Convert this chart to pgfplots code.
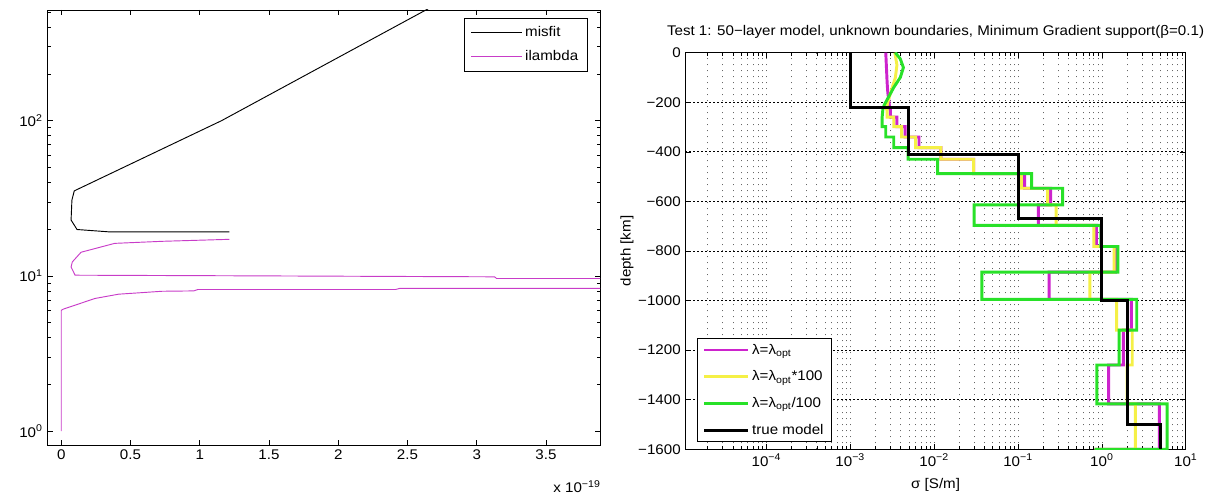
\documentclass[border=0pt]{standalone}
\usepackage{pgfplots}
\pgfplotsset{compat=1.18}
\usepackage{pgfplotstable}
\usepackage{fontspec}
\setmainfont[FakeStretch=1.08]{Liberation Sans}

\definecolor{lammag}{RGB}{200,60,200}
\definecolor{optmag}{RGB}{205,35,205}
\definecolor{hiyel}{RGB}{245,240,70}
\definecolor{logrn}{RGB}{40,225,40}

\newcommand{\tickfont}{\fontsize{10.5}{12}\selectfont}

% ---------- L-curve data (x in units of 1e-19) ----------
\pgfplotstableread{
x      y
1.214  19.2
0.351  19.2
0.114  19.9
0.071  22.9
0.077  30.8
0.094  35.3
1.157  100
2.768  601
}\misfit

\pgfplotstableread{
x      y
0      1.0
0      6.0
0.014  6.1
0.243  7.15
0.414  7.62
0.729  7.96
0.957  8.0
0.986  8.17
2.414  8.17
2.443  8.3
4.2    8.3
4.2    9.62
3.143  9.62
3.129  9.86
1.414  10.0
0.1    10.1
0.071  11.4
0.08   12.3
0.143  14.2
0.386  16.2
0.729  16.7
1.214  17.2
}\ilambda

% ---------- conductivity profiles (sigma [S/m], depth [km]) ----------
\pgfplotstableread{
s        d
2.65e-3  0
2.7e-3   -60
2.75e-3  -120
2.8e-3   -160
2.9e-3   -200
2.95e-3  -226
3.0e-3   -226
3.0e-3   -260
3.6e-3   -260
3.6e-3   -298
4.5e-3   -298
4.5e-3   -340
6.6e-3   -340
6.6e-3   -383
0.012    -383
0.012    -430
0.0295   -430
0.0295   -488
0.12     -488
0.12     -547
0.245    -547
0.245    -614
0.175    -614
0.175    -697
0.86     -697
0.86     -782
1.45     -782
1.45     -885
0.235    -885
0.235    -995
2.25     -995
2.25     -1119
1.8      -1119
1.8      -1260
1.2      -1260
1.2      -1417
4.85     -1417
4.85     -1600
0.85     -1600
0.85     -1700
}\lamopt

\pgfplotstableread{
s        d
3.4e-3   0
3.6e-3   -50
3.45e-3  -100
3.1e-3   -150
2.8e-3   -200
2.7e-3   -226
2.75e-3  -226
2.75e-3  -260
3.3e-3   -260
3.3e-3   -298
4.1e-3   -298
4.1e-3   -340
6.0e-3   -340
6.0e-3   -383
0.012    -383
0.012    -430
0.0295   -430
0.0295   -488
0.11     -488
0.11     -547
0.225    -547
0.225    -614
0.285    -614
0.285    -697
0.80     -697
0.80     -782
1.4      -782
1.4      -885
0.72     -885
0.72     -995
1.5      -995
1.5      -1119
2.3      -1119
2.3      -1260
2.0      -1260
2.0      -1417
2.5      -1417
2.5      -1600
0.85     -1600
0.85     -1700
}\lamhigh

\pgfplotstableread{
s        d
3.45e-3  0
3.95e-3  -25
4.3e-3   -60
3.95e-3  -100
3.3e-3   -140
2.85e-3  -180
2.55e-3  -210
2.45e-3  -226
2.4e-3   -260
2.4e-3   -298
2.65e-3  -298
2.65e-3  -340
3.3e-3   -340
3.3e-3   -383
4.9e-3   -383
4.9e-3   -430
0.011    -430
0.011    -488
0.145    -488
0.145    -547
0.34     -547
0.34     -614
0.030    -614
0.030    -697
0.97     -697
0.97     -782
1.55     -782
1.55     -885
0.037    -885
0.037    -995
2.6      -995
2.6      -1119
1.6      -1119
1.6      -1260
0.87     -1260
0.87     -1417
6.0      -1417
6.0      -1600
0.85     -1600
0.85     -1700
}\lamlow

\pgfplotstableread{
s      d
1e-3   0
1e-3   -220
5e-3   -220
5e-3   -410
0.1    -410
0.1    -670
1      -670
1      -1000
2      -1000
2      -1500
5      -1500
5      -1600
}\truemodel

\begin{document}
\begin{tikzpicture}
\useasboundingbox (0pt,0pt) rectangle (915pt,373.5pt);

% ================= left: misfit / ilambda =================
\begin{axis}[
  at={(35.55pt,39.75pt)}, anchor=south west,
  width=414.45pt, height=326.25pt, scale only axis,
  xmin=-0.1, xmax=3.89,
  ymode=log, ymin=0.813, ymax=517,
  xtick={0,0.5,1,1.5,2,2.5,3,3.5},
  xticklabels={0,0.5,1,1.5,2,2.5,3,3.5},
  ytick={1,10,100},
  yticklabels={10\textsuperscript{0},10\textsuperscript{1},10\textsuperscript{2}},
  minor ytick={2,3,4,5,6,7,8,9,20,30,40,50,60,70,80,90,200,300,400,500},
  tick align=inside, major tick length=4pt, minor tick length=2.5pt,
  tick style={black, line width=0.5pt},
  axis line style={line width=0.6pt},
  tick label style={font=\tickfont},
  legend cell align=left,
  legend image code/.code={\draw[#1, line width=0.8pt] (0pt,0pt) -- (38pt,0pt);},
  legend style={at={(rel axis cs:0.978,0.981)}, anchor=north east,
    font=\tickfont, draw=black, line width=0.5pt,
    inner xsep=5pt, inner ysep=4pt, row sep=5pt},
]
\addplot[black, line width=0.7pt] table[x=x, y=y] {\misfit};
\addlegendentry{misfit}
\addplot[lammag, line width=0.7pt] table[x=x, y=y] {\ilambda};
\addlegendentry{ilambda}
\end{axis}
\node[font=\tickfont] at (432.75pt,8.25pt) {x 10\textsuperscript{−19}};

% ================= right: conductivity vs depth =================
\begin{axis}[
  at={(514.05pt,36.525pt)}, anchor=south west,
  width=375.3pt, height=297.45pt, scale only axis,
  xmode=log, xmin=1.083e-5, xmax=10,
  ymin=-1600, ymax=0,
  xtick={1e-4,1e-3,1e-2,1e-1,1,10},
  xticklabels={10\textsuperscript{−4},10\textsuperscript{−3},10\textsuperscript{−2},10\textsuperscript{−1},10\textsuperscript{0},10\textsuperscript{1}},
  minor xtick={2e-5,3e-5,4e-5,5e-5,6e-5,7e-5,8e-5,9e-5,
               2e-4,3e-4,4e-4,5e-4,6e-4,7e-4,8e-4,9e-4,
               2e-3,3e-3,4e-3,5e-3,6e-3,7e-3,8e-3,9e-3,
               2e-2,3e-2,4e-2,5e-2,6e-2,7e-2,8e-2,9e-2,
               0.2,0.3,0.4,0.5,0.6,0.7,0.8,0.9,
               2,3,4,5,6,7,8,9},
  ytick={-1600,-1400,-1200,-1000,-800,-600,-400,-200,0},
  yticklabels={−1600,−1400,−1200,−1000,−800,−600,−400,−200,0},
  xmajorgrids, xminorgrids, ymajorgrids,
  major x grid style={black!60, line width=0.6pt, dash pattern=on 0.6pt off 3.9pt},
  minor x grid style={black!60, line width=0.6pt, dash pattern=on 0.6pt off 3.9pt},
  major y grid style={black, line width=0.55pt, dash pattern=on 1.2pt off 1.8pt},
  tick align=inside, major tick length=4pt, minor tick length=2.2pt,
  tick style={black, line width=0.5pt},
  axis line style={line width=0.6pt},
  tick label style={font=\tickfont},
  title={Test 1: 50−layer model, unknown boundaries, Minimum Gradient support(β=0.1)},
  title style={font=\tickfont, at={(axis description cs:0.5,1.033)}, anchor=center},
  xlabel={σ [S/m]},
  xlabel style={font=\tickfont, at={(axis description cs:0.5,-0.09)}, anchor=center},
  ylabel={depth [km]},
  ylabel style={font=\tickfont, at={(axis description cs:-0.1167,0.5)}, anchor=center},
  legend cell align=left,
  legend image code/.code={\draw[#1, line width=2.2pt] (0pt,0pt) -- (33pt,0pt);},
  legend style={at={(rel axis cs:0.023,0.018)}, anchor=south west,
    font=\tickfont, draw=black, line width=0.5pt,
    inner xsep=4pt, inner ysep=2pt, row sep=7pt},
]
\addplot[optmag, line width=2.2pt] table[x=s, y=d] {\lamopt};
\addlegendentry{λ=λ\textsubscript{opt}}
\addplot[hiyel, line width=2.2pt] table[x=s, y=d] {\lamhigh};
\addlegendentry{λ=λ\textsubscript{opt}*100}
\addplot[logrn, line width=2.2pt] table[x=s, y=d] {\lamlow};
\addlegendentry{λ=λ\textsubscript{opt}/100}
\addplot[black, line width=2.2pt] table[x=s, y=d] {\truemodel};
\addlegendentry{true model}
\end{axis}
\end{tikzpicture}
\end{document}
